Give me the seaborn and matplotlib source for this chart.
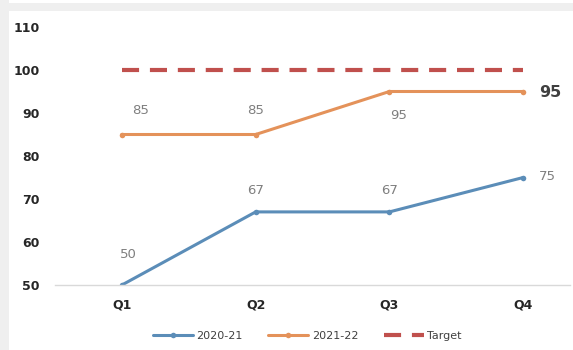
import matplotlib
matplotlib.use("Agg")
import matplotlib.pyplot as plt
import matplotlib.patches as mpatches
import seaborn as sns
import pandas as pd

quarters = ["Q1", "Q2", "Q3", "Q4"]
fy2021 = [50, 67, 67, 75]
fy2122 = [85, 85, 95, 95]
target = [100, 100, 100, 100]
series_names = ["2020-21", "2021-22", "Target"]
y_ticks = [50, 60, 70, 80, 90, 100, 110]

blue = "#5b8db8"
orange = "#e4925a"
red = "#c0504d"

df = pd.DataFrame({
    "pos": list(range(len(quarters))) * 3,
    "value": fy2021 + fy2122 + target,
    "series": [series_names[0]] * 4 + [series_names[1]] * 4 + [series_names[2]] * 4,
})

sns.set_theme(style="white")
plt.rcParams["font.family"] = ["DejaVu Sans"]

fig = plt.figure(figsize=(5.73, 3.5), dpi=100, facecolor="#efefef")
# white chart area behind the axes
fig.patches.append(mpatches.Rectangle((9 / 573, 0), 1 - 9 / 573, 1 - 11 / 350,
                                      transform=fig.transFigure, facecolor="white",
                                      edgecolor="none", zorder=-5))
fig.patches.append(mpatches.Rectangle((9 / 573, 1 - 3 / 350), 1 - 9 / 573, 3 / 350,
                                      transform=fig.transFigure, facecolor="white",
                                      edgecolor="none", zorder=-5))

ax = fig.add_axes([55 / 573, 65 / 350, 515 / 573, 258 / 350])
ax.set_facecolor("none")
ax.set_zorder(5)

sns.lineplot(data=df[df.series == series_names[0]], x="pos", y="value", ax=ax,
             color=blue, linewidth=2.2, marker="o", markersize=4,
             markeredgewidth=0, label=series_names[0])
sns.lineplot(data=df[df.series == series_names[1]], x="pos", y="value", ax=ax,
             color=orange, linewidth=2.2, marker="o", markersize=4,
             markeredgewidth=0, label=series_names[1])
sns.lineplot(data=df[df.series == series_names[2]], x="pos", y="value", ax=ax,
             color=red, linewidth=3.0, linestyle=(0, (4.1, 2.6)), label=series_names[2])

ax.set_xlim(-0.5, 3.35)
ax.set_ylim(50, 110)
ax.set_xticks(range(len(quarters)))
ax.set_xticklabels(quarters)
ax.set_yticks(y_ticks)
ax.set_xlabel("")
ax.set_ylabel("")
for s in ["top", "right", "left"]:
    ax.spines[s].set_visible(False)
ax.spines["bottom"].set_color("#d9d9d9")
ax.spines["bottom"].set_linewidth(1)
ax.tick_params(axis="both", length=0, labelsize=9, labelcolor="#262626")
ax.tick_params(axis="y", pad=11)
ax.tick_params(axis="x", pad=10)
for t in ax.get_xticklabels() + ax.get_yticklabels():
    t.set_fontweight("bold")

lab = dict(color="#7f7f7f", fontsize=9.5, ha="center", va="center")
# 2020-21 labels
ax.text(0 + 0.05, fy2021[0] + 7, str(fy2021[0]), **lab)
ax.text(1, fy2021[1] + 5, str(fy2021[1]), **lab)
ax.text(2, fy2021[2] + 5, str(fy2021[2]), **lab)
ax.text(3 + 0.18, fy2021[3] + 0.3, str(fy2021[3]), **lab)
# 2021-22 labels
ax.text(0 + 0.14, fy2122[0] + 5.5, str(fy2122[0]), **lab)
ax.text(1, fy2122[1] + 5.5, str(fy2122[1]), **lab)
ax.text(2 + 0.07, fy2122[2] - 5.5, str(fy2122[2]), **lab)
ax.text(3 + 0.2, fy2122[3] - 0.3, str(fy2122[3]), color="#404040", fontsize=11.5,
        fontweight="bold", ha="center", va="center")

leg = ax.legend(loc="lower center", bbox_to_anchor=(0.5 - 0.01, -0.255), ncol=3,
                frameon=False, fontsize=8, handlelength=3.6, columnspacing=2.3,
                handletextpad=0.3)
for t in leg.get_texts():
    t.set_color("#404040")

fig.savefig("out.png", dpi=100, facecolor=fig.get_facecolor())
